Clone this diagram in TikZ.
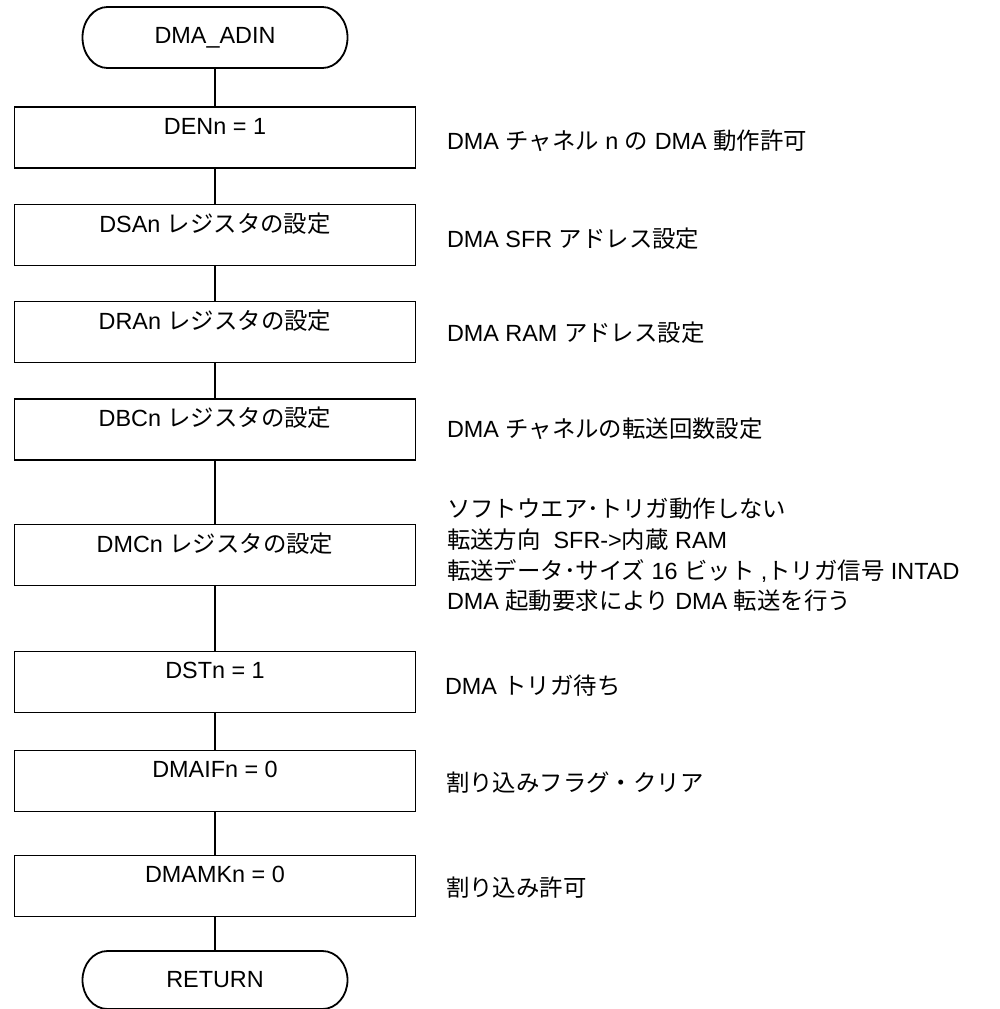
\documentclass[tikz,border=0pt]{standalone}
\usepackage{fontspec}
\setmainfont{Liberation Sans}
\newfontfamily\jpfont{Noto Sans CJK JP}
\newcommand{\jpn}[1]{{\jpfont #1}}
\tikzset{
  every node/.style={font=\fontsize{23.4pt}{30.7pt}\selectfont, inner sep=0pt, outer sep=0pt},
  stepbox/.style={draw, line width=1.8pt, minimum width=401pt, minimum height=61pt},
  termbox/.style={minimum width=265pt, minimum height=61pt},
  boxlabel/.style={label={[anchor=center, yshift=-19pt]north:#1}},
  note/.style={anchor=west, align=left},
  conn/.style={line width=1.5pt},
  outline/.style={line width=1.8pt}
}
\begin{document}
\begin{tikzpicture}[x=1pt, y=-1pt]
\useasboundingbox (0,0) rectangle (999,1009);
% terminals
\node[termbox] (t1) at (215,37.5) {DMA\_ADIN};
\node[termbox, minimum height=58pt] (t2) at (215,980) {RETURN};
\draw[outline] ([xshift=25pt]t1.north west) -- ([xshift=-25pt]t1.north east)
  arc[start angle=90, end angle=-90, x radius=25pt, y radius=30.5pt]
  -- ([xshift=25pt]t1.south west)
  arc[start angle=270, end angle=90, x radius=25pt, y radius=30.5pt] -- cycle;
\draw[outline] ([xshift=25pt]t2.north west) -- ([xshift=-25pt]t2.north east)
  arc[start angle=90, end angle=-90, x radius=25pt, y radius=29pt]
  -- ([xshift=25pt]t2.south west)
  arc[start angle=270, end angle=90, x radius=25pt, y radius=29pt] -- cycle;
% process boxes
\node[stepbox, boxlabel={DENn = 1}] (b1) at (215,137.5) {};
\node[stepbox, boxlabel={DSAn \jpn{レジスタの設定}}] (b2) at (215,235) {};
\node[stepbox, boxlabel={DRAn \jpn{レジスタの設定}}] (b3) at (215,332) {};
\node[stepbox, boxlabel={DBCn \jpn{レジスタの設定}}] (b4) at (215,429.5) {};
\node[stepbox, boxlabel={DMCn \jpn{レジスタの設定}}] (b5) at (215,555) {};
\node[stepbox, boxlabel={DSTn = 1}] (b6) at (215,682) {};
\node[stepbox, boxlabel={DMAIFn = 0}] (b7) at (215,781) {};
\node[stepbox, boxlabel={DMAMKn = 0}] (b8) at (215,886) {};
% connectors
\draw[conn] (t1) -- (b1);
\draw[conn] (b1) -- (b2);
\draw[conn] (b2) -- (b3);
\draw[conn] (b3) -- (b4);
\draw[conn] (b4) -- (b5);
\draw[conn] (b5) -- (b6);
\draw[conn] (b6) -- (b7);
\draw[conn] (b7) -- (b8);
\draw[conn] (b8) -- (t2);
% notes
\node[note] (n1) at (447,141) {DMA \jpn{チャネル} n \jpn{の} DMA \jpn{動作許可}};
\node[note] (n2) at (447,239) {DMA SFR \jpn{アドレス設定}};
\node[note] (n3) at (447,333) {DMA RAM \jpn{アドレス設定}};
\node[note] (n4) at (447,429) {DMA \jpn{チャネルの転送回数設定}};
\node[note] (n5) at (447,555) {\jpn{ソフトウエア･トリガ動作しない}\\
  \jpn{転送方向}\ \ SFR->\jpn{内蔵} RAM\\
  \jpn{転送データ･サイズ} 16 \jpn{ビット} ,\jpn{トリガ信号} INTAD\\
  DMA \jpn{起動要求により} DMA \jpn{転送を行う}};
\node[note] (n6) at (445,686) {DMA \jpn{トリガ待ち}};
\node[note] (n7) at (446,783) {\jpn{割り込みフラグ・クリア}};
\node[note] (n8) at (446,888) {\jpn{割り込み許可}};
\end{tikzpicture}
\end{document}
